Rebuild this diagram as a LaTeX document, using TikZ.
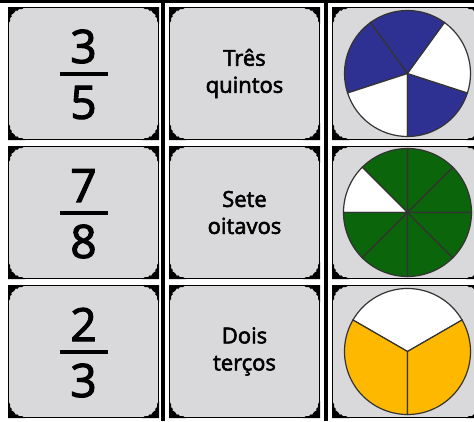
\documentclass[tikz,border=0pt]{standalone}
\usepackage{fontspec}
\setmainfont{Open Sans}
\newfontfamily\cardfont[FakeBold=2.5]{Open Sans}
\definecolor{CardGrey}{HTML}{D9D9DB}
\definecolor{PieBlue}{HTML}{2E3192}
\definecolor{PieGreen}{HTML}{0B650B}
\definecolor{PieGold}{HTML}{FFB800}
\definecolor{PieEdge}{HTML}{333333}
\tikzset{
  cardbox/.style={
    draw=black,
    line width=1pt,
    fill=CardGrey,
    anchor=north west,
    minimum width=150pt,
    minimum height=132pt,
    inner sep=0pt
  },
  ornament/.style={fill=black},
  fracdigit/.style={font=\cardfont\fontsize{46}{46}\selectfont},
  fracbar/.style={line width=4pt},
  cardword/.style={font=\cardfont\fontsize{22}{27}\selectfont,align=center},
  slice/.style={draw=PieEdge,line width=1.2pt},
  divider/.style={draw=black,line width=4pt}
}
\begin{document}
\begin{tikzpicture}[x=1pt,y=1pt]
  \useasboundingbox (0,0) rectangle (474,-421);
  \clip (0,0) rectangle (474,-421);
  \fill[white] (0,0) rectangle (474,-421);

  \draw[line width=3pt] (0,-1.5) -- (474,-1.5);
  \draw[divider] (163,0) -- (163,-421);
  \draw[divider] (326,0) -- (326,-421);

  \node[cardbox] (frac1) at (8,-7) {};
  \node[cardbox] (frac2) at (8,-146) {};
  \node[cardbox] (frac3) at (8,-285) {};
  \node[cardbox] (word1) at (169,-7) {};
  \node[cardbox] (word2) at (169,-146) {};
  \node[cardbox] (word3) at (169,-285) {};
  \node[cardbox] (pie1) at (332,-7) {};
  \node[cardbox] (pie2) at (332,-146) {};
  \node[cardbox] (pie3) at (332,-285) {};

  % corner ornaments
  \foreach \card in {frac1,frac2,frac3,word1,word2,word3,pie1,pie2,pie3}{
    \foreach \sx/\sy/\corner in {1/-1/north west,-1/-1/north east,1/1/south west,-1/1/south east}{
      \path[ornament] (\card.\corner) -- +(\sx*17,0) -- +(\sx*14,\sy*2) -- +(\sx*11,\sy*2)
        -- +(\sx*9,\sy*4) -- +(\sx*8,\sy*3) -- +(\sx*6,\sy*6) -- +(\sx*3,\sy*8)
        -- +(\sx*4,\sy*9) -- +(\sx*2,\sy*11) -- +(\sx*2,\sy*14) -- +(0,\sy*17) -- cycle;
    }
  }

  % fractions
  \foreach \card/\n/\d in {frac1/3/5,frac2/7/8,frac3/2/3} {
    \node[fracdigit] (\card num) at ([yshift=27pt]\card.center) {\n};
    \node[fracdigit] (\card den) at ([yshift=-29pt]\card.center) {\d};
    \draw[fracbar] ([xshift=-24pt]\card.center) -- ([xshift=24pt]\card.center);
  }

  % words
  \node[cardword] (name1) at (word1.center) {Três\\quintos};
  \node[cardword] (name2) at (word2.center) {Sete\\oitavos};
  \node[cardword] (name3) at (word3.center) {Dois\\terços};

  % pies
  \foreach \a/\b/\col in {54/126/PieBlue,126/198/PieBlue,198/270/white,270/342/PieBlue,342/414/white}{
    \filldraw[slice,fill=\col] (pie1.center) -- ++(\a:63pt)
      arc[start angle=\a,end angle=\b,radius=63pt] -- cycle;
  }
  \foreach \a in {0,45,...,315} {
    \pgfmathsetmacro{\b}{\a+45}
    \ifnum\a=135 \def\col{white}\else\def\col{PieGreen}\fi
    \filldraw[slice,fill=\col] (pie2.center) -- ++(\a:64pt)
      arc[start angle=\a,end angle=\b,radius=64pt] -- cycle;
  }
  \foreach \a/\b/\col in {30/150/white,150/270/PieGold,270/390/PieGold}{
    \filldraw[slice,fill=\col] (pie3.center) -- ++(\a:63pt)
      arc[start angle=\a,end angle=\b,radius=63pt] -- cycle;
  }
\end{tikzpicture}
\end{document}
